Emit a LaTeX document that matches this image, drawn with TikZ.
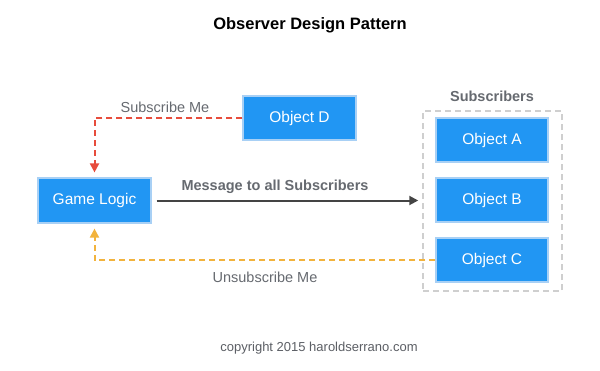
\documentclass[tikz,border=0pt]{standalone}
\usepackage{fontspec}
\setmainfont{Liberation Sans}
\usetikzlibrary{arrows.meta}
\definecolor{boxfill}{HTML}{2196F3}
\definecolor{boxline}{HTML}{A8D0F5}
\definecolor{subred}{HTML}{E74C3C}
\definecolor{unsorange}{HTML}{F2B33D}
\definecolor{labelgray}{HTML}{666A70}
\definecolor{framegray}{HTML}{CFCFCF}
\definecolor{msgdark}{HTML}{444444}
\tikzset{
  objbox/.style={draw=boxline, line width=1.2pt, fill=boxfill, text=white,
    minimum width=112pt, minimum height=44pt, inner sep=0pt,
    font=\fontsize{15.5}{18}\selectfont},
  lbl/.style={text=labelgray, inner sep=0pt, font=\fontsize{14.5}{17}\selectfont},
  boldlbl/.style={text=labelgray, inner sep=0pt, font=\bfseries\fontsize{14.5}{17}\selectfont},
  dashlink/.style={line width=2pt, dash pattern=on 6pt off 4pt,
    -{Triangle[length=9pt,width=9pt]}, shorten >=5pt},
}
\begin{document}
\begin{tikzpicture}[x=1pt,y=-1pt]
\useasboundingbox[fill=white] (0,0) rectangle (600,370);
\node[inner sep=0pt, font=\bfseries\fontsize{16.5}{19}\selectfont] (title) at (310,25) {Observer Design Pattern};
\node[objbox, minimum width=113pt, minimum height=45pt] (gl) at (94.5,200.5) {Game Logic};
\node[objbox, minimum width=113pt] (d) at (299.5,118) {Object D};
\node[draw=framegray, line width=1.5pt, dash pattern=on 6pt off 4pt,
  minimum width=139pt, minimum height=180pt, inner sep=0pt] (subs) at (492.5,201) {};
\node[boldlbl] (subslbl) at (492,96) {Subscribers};
\node[objbox] (a) at (492,140) {Object A};
\node[objbox] (b) at (492,200) {Object B};
\node[objbox] (c) at (492,260) {Object C};
\draw[subred, dashlink] (d.west) -| (gl.north);
\draw[unsorange, dashlink] (c.west) -| (gl.south);
\draw[msgdark, line width=2pt, -{Triangle[length=9pt,width=9pt]}, shorten <=5pt, shorten >=4pt] (gl.east) -- (gl.east -| subs.west);
\node[lbl] (sublbl) at (165,107) {Subscribe Me};
\node[lbl] (unslbl) at (265,277) {Unsubscribe Me};
\node[boldlbl] (msglbl) at (275,187) {Message to all Subscribers};
\node[inner sep=0pt, text=labelgray!90!black, font=\fontsize{13}{15}\selectfont] (copy) at (319,348) {copyright 2015 haroldserrano.com};
\end{tikzpicture}
\end{document}
